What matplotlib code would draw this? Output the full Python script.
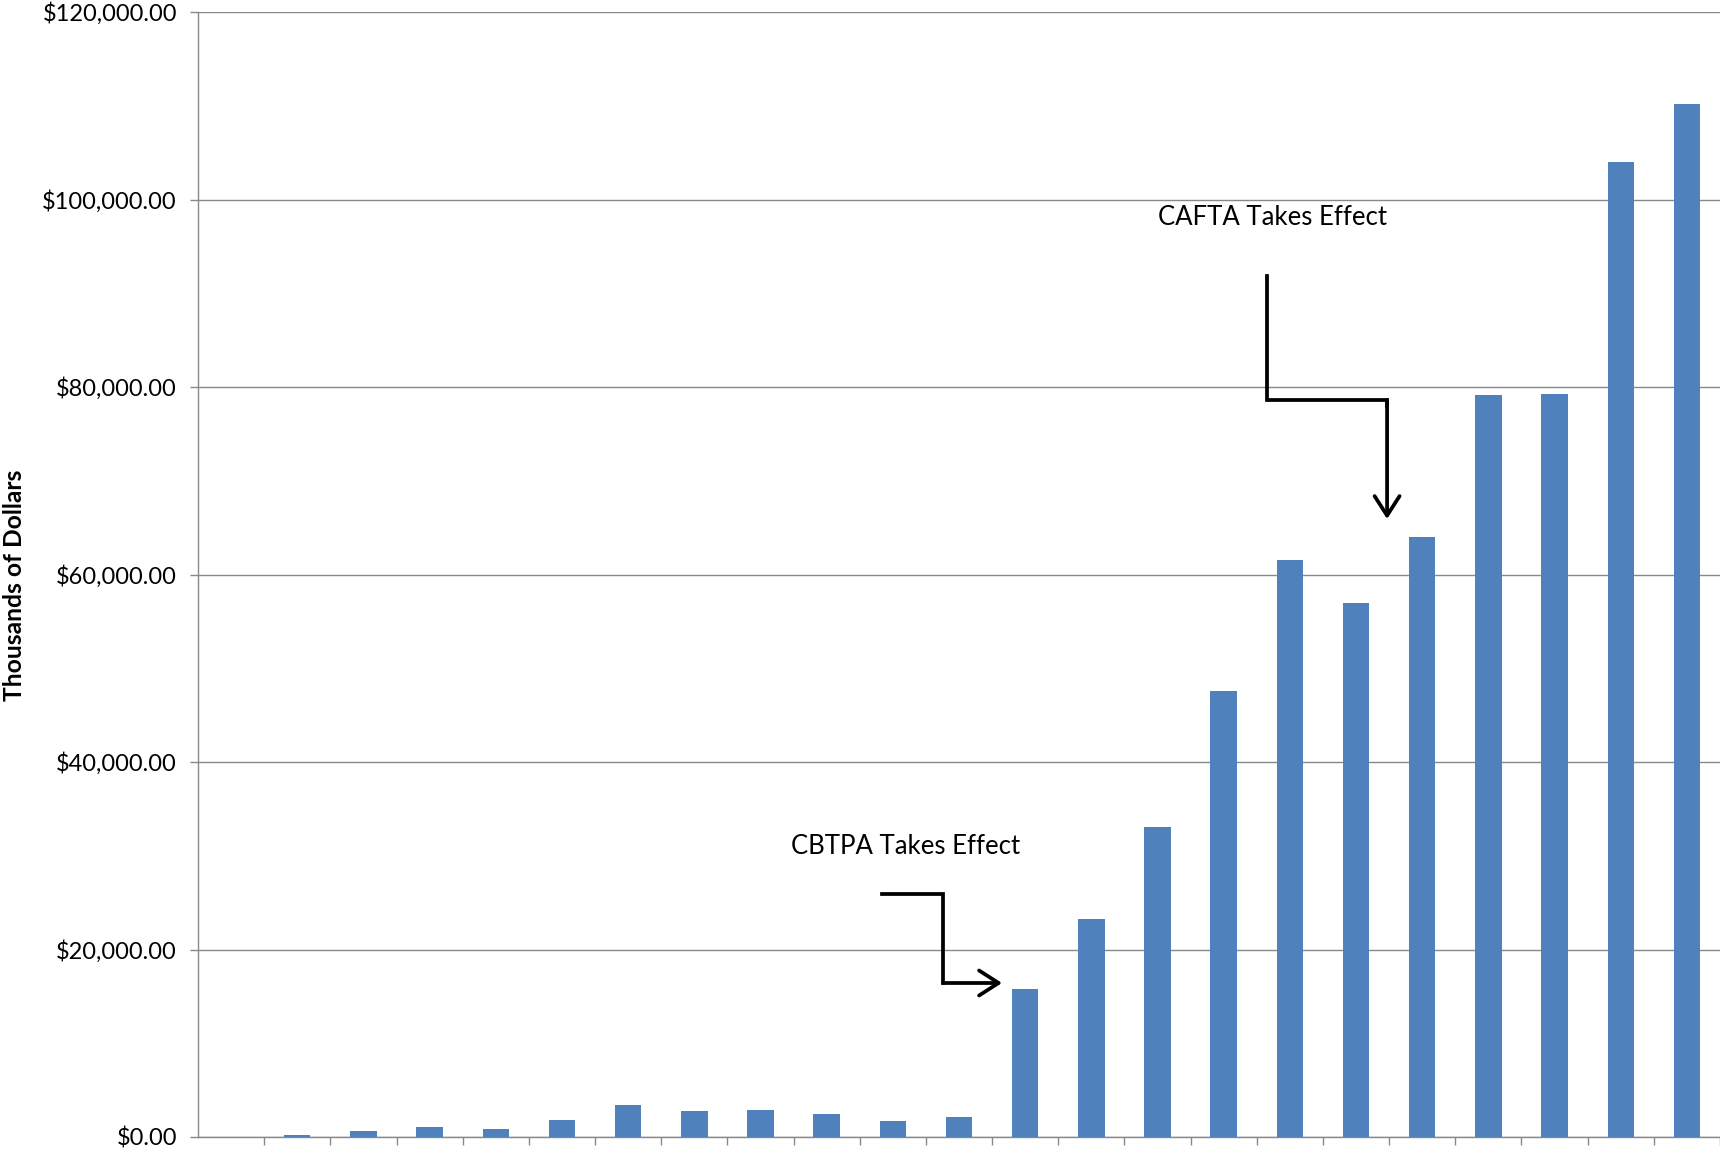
import matplotlib
matplotlib.use("Agg")
import matplotlib.pyplot as plt
from matplotlib.ticker import FixedLocator, FuncFormatter

# Annual values, thousands of dollars (first period has no shipments)
values = [0, 250, 680, 1100, 890, 1850, 3450, 2810, 2920, 2490, 1740, 2170,
          15800, 23300, 33100, 47600, 61500, 57000, 64000, 79200, 79300,
          104000, 110200]
y_ticks = [0, 20000, 40000, 60000, 80000, 100000, 120000]
y_label = "Thousands of Dollars"
notes = ["CBTPA Takes Effect", "CAFTA Takes Effect"]

BAR = "#4F81BD"
GRID = "#898989"
FONT = "Lato"

W, H = 1720, 1154
fig = plt.figure(figsize=(W / 100, H / 100), dpi=100)
ax = fig.add_axes([198 / W, 17 / H, 1522 / W, 1125 / H])

n = len(values)
ax.bar(range(n), values, width=0.4, color=BAR, zorder=3)

ax.set_xlim(-0.5, n - 0.5)
ax.set_ylim(0, 120000)

# y axis: currency ticks with gridlines
ax.yaxis.set_major_locator(FixedLocator(y_ticks))
ax.yaxis.set_major_formatter(FuncFormatter(lambda v, p: "${:,.2f}".format(v)))
ax.grid(axis="y", color=GRID, linewidth=1.0, zorder=0)
ax.tick_params(axis="y", direction="out", length=5.8, width=1.0, color=GRID,
               pad=9.4, labelsize=17)
for lab in ax.get_yticklabels():
    lab.set_fontfamily(FONT)

# x axis: tick marks between categories, no labels
ax.xaxis.set_major_locator(FixedLocator([i + 0.5 for i in range(n)]))
ax.tick_params(axis="x", direction="out", length=5.8, width=1.0, color=GRID,
               labelbottom=False)

for side in ("top", "right"):
    ax.spines[side].set_visible(False)
for side in ("left", "bottom"):
    ax.spines[side].set_color(GRID)
    ax.spines[side].set_linewidth(1.0)

fig.text(15 / W, 1 - 585 / H, y_label, rotation=90, ha="center", va="center",
         fontsize=17.7, fontweight="bold", fontfamily=FONT)

# Annotations with elbow arrows
ax.text(8.46, 31040, notes[0], ha="left", va="center", fontsize=18.5,
        fontfamily=FONT, zorder=5)
ax.text(14.01, 98130, notes[1], ha="left", va="center", fontsize=18.5,
        fontfamily=FONT, zorder=5)

LW = 2.7
HEAD = "->,head_length=0.7,head_width=0.45"
ax.plot([9.837, 10.759, 10.759], [25920, 25920, 16427], color="black",
        lw=LW, solid_joinstyle="miter", zorder=5)
ax.annotate("", xy=(11.65, 16427), xytext=(10.759, 16427),
            arrowprops=dict(arrowstyle=HEAD, color="black", lw=LW,
                            mutation_scale=20, shrinkA=0, shrinkB=0),
            zorder=5)

ax.plot([15.655, 15.655, 17.469, 17.469], [91840, 78613, 78613, 78000],
        color="black", lw=LW, solid_joinstyle="miter", zorder=5)
ax.annotate("", xy=(17.469, 65920), xytext=(17.469, 78613),
            arrowprops=dict(arrowstyle=HEAD, color="black", lw=LW,
                            mutation_scale=20, shrinkA=0, shrinkB=0),
            zorder=5)

fig.savefig("out.png", dpi=100)
